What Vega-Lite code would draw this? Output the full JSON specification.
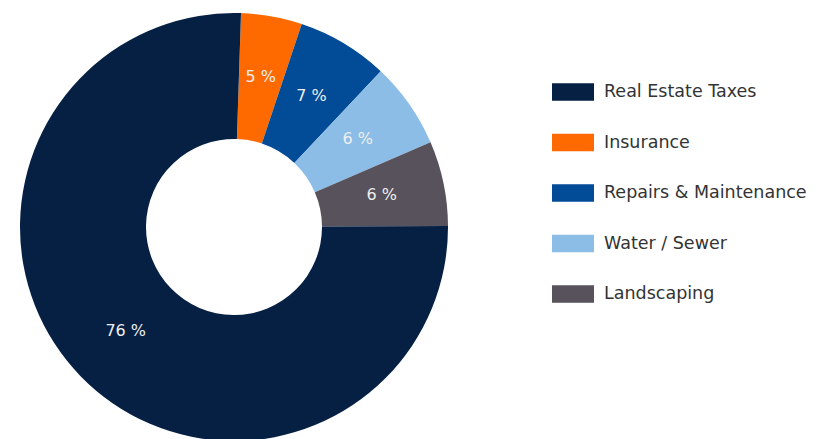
{
  "$schema": "https://vega.github.io/schema/vega-lite/v6.json",
  "width": 468,
  "height": 439,
  "padding": 0,
  "autosize": {"type": "pad"},
  "background": "white",
  "data": {
    "values": [
      {"category": "Insurance", "value": 4.6, "label": "5 %", "rank": 1},
      {"category": "Repairs & Maintenance", "value": 6.9, "label": "7 %", "rank": 2},
      {"category": "Water / Sewer", "value": 6.5, "label": "6 %", "rank": 3},
      {"category": "Landscaping", "value": 6.4, "label": "6 %", "rank": 4},
      {"category": "Real Estate Taxes", "value": 75.6, "label": "76 %", "rank": 5}
    ]
  },
  "encoding": {
    "theta": {"field": "value", "type": "quantitative", "stack": true, "scale": {"range": [0.033, 6.316]}},
    "order": {"field": "rank", "type": "quantitative"}
  },
  "layer": [
    {
      "mark": {"type": "arc", "radius": 214, "radius2": 88, "yOffset": 7.5},
      "encoding": {
        "color": {
          "field": "category",
          "type": "nominal",
          "scale": {
            "domain": ["Real Estate Taxes", "Insurance", "Repairs & Maintenance", "Water / Sewer", "Landscaping"],
            "range": ["#062044", "#ff6a00", "#024b97", "#8bbde6", "#57525c"]
          },
          "legend": {
            "title": null,
            "orient": "none",
            "legendX": 552,
            "legendY": 71,
            "padding": 0,
            "symbolType": "M-1,-0.42H1V0.42H-1Z",
            "symbolSize": 1764,
            "symbolStrokeWidth": 0,
            "rowPadding": 20.5,
            "labelOffset": 10,
            "labelFont": "DejaVu Sans",
            "labelFontSize": 17.5,
            "labelColor": "#333333",
            "labelLimit": 300
          }
        }
      }
    },
    {
      "mark": {"type": "text", "radius": 151, "yOffset": 6, "font": "DejaVu Sans", "fontSize": 16, "color": "#eeeeee"},
      "encoding": {
        "text": {"field": "label", "type": "nominal"}
      }
    }
  ]
}
